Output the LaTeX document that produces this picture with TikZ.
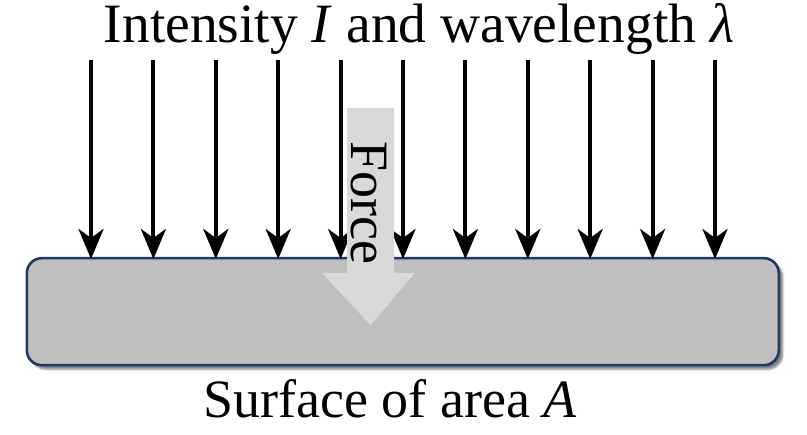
\documentclass[tikz,border=0pt]{standalone}
\usepackage{fontspec}
\setmainfont{Liberation Serif}
\usetikzlibrary{arrows.meta,shadows.blur}
\definecolor{navy}{HTML}{1F3864}
\definecolor{surf}{HTML}{BFBFBF}
\definecolor{forcegray}{HTML}{D9D9D9}
\tikzset{
  lbl/.style={font=\fontsize{54}{60}\selectfont, inner sep=0pt},
  toplbl/.style={font=\fontsize{55.5}{60}\selectfont, inner sep=0pt},
  ray/.style={line width=4pt, -{Stealth[length=30pt,width=25pt,inset=9pt]}},
  surfbox/.style={draw=navy, line width=2.6pt, fill=surf, rounded corners=15pt,
     blur shadow={shadow xshift=4pt, shadow yshift=-4pt, shadow blur steps=6, shadow opacity=50}},
  forcearrow/.style={fill=forcegray, draw=none}
}
\begin{document}
\begin{tikzpicture}[x=1pt,y=1pt]
\useasboundingbox (0,0) rectangle (807,435);
% surface
\node[surfbox, minimum width=752pt, minimum height=107pt, anchor=south west, inner sep=0pt] (surface) at (25.5,68.5) {};
% rays
\foreach \i in {0,...,10} {
  \pgfmathsetmacro{\xx}{91+62.4*\i}
  \coordinate (s\i) at (\xx,375);
  \coordinate (e\i) at (\xx,176);
  \draw[ray] (s\i) -- (e\i);
}
% force arrow
\path[forcearrow] (347,327) -- (394,327) -- (394,162) -- (415,162) -- (370.5,110) -- (322,162) -- (347,162) -- cycle;
\node[lbl, rotate=-90] (force) at (369,232) {Force};
% labels
\node[toplbl, anchor=base] (top) at (419,392) {Intensity \textit{I} and wavelength \textit{λ}};
\node[lbl, anchor=base] (bottom) at (390,17) {Surface of area \textit{A}};
\end{tikzpicture}
\end{document}
